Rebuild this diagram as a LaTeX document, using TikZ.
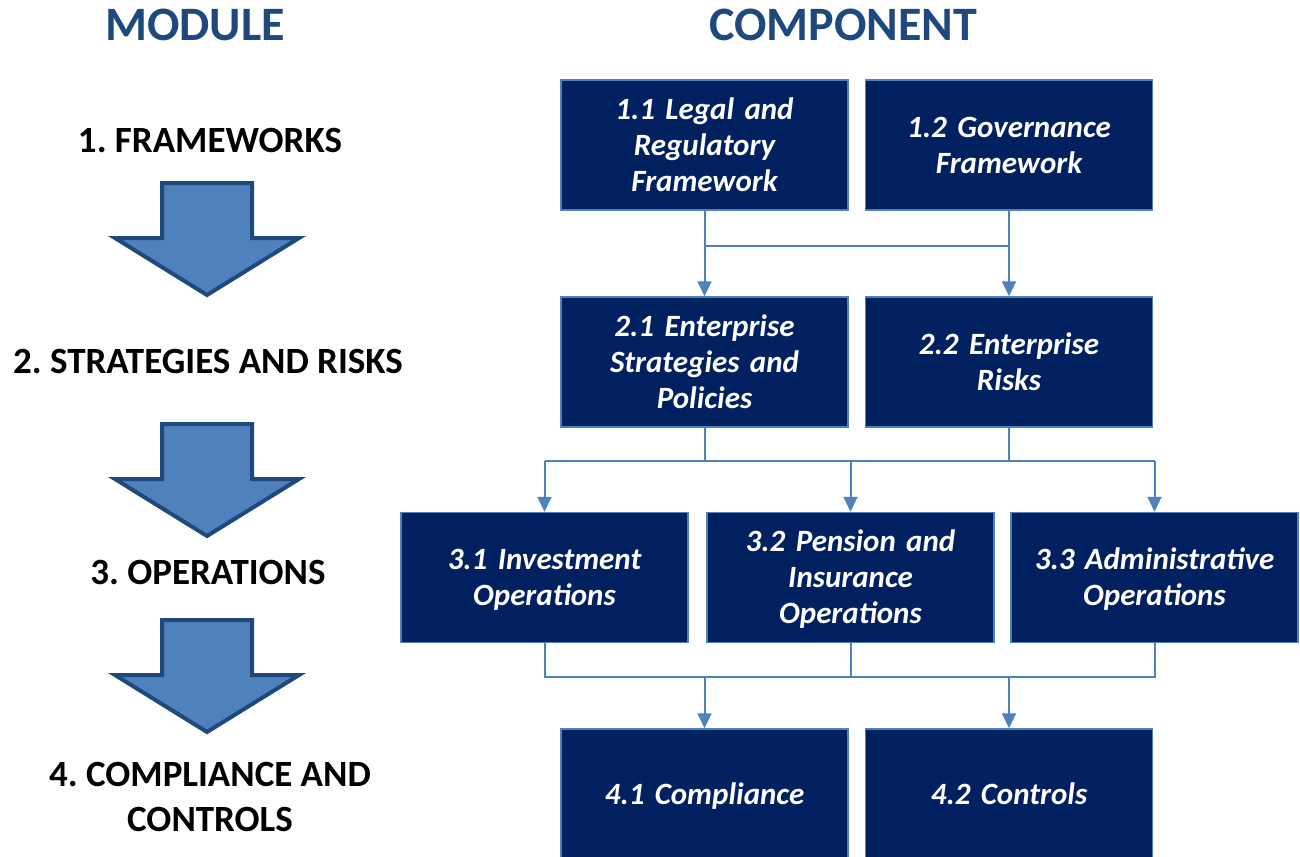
\documentclass[tikz,border=0pt]{standalone}
\usepackage{fontspec}
\setmainfont{Carlito}
\usetikzlibrary{arrows.meta}

\definecolor{navy}{RGB}{0,32,96}
\definecolor{lineblue}{RGB}{79,129,189}
\definecolor{titleblue}{RGB}{31,73,125}

\begin{document}
\frenchspacing
\begin{tikzpicture}[x=1pt,y=1pt,yscale=-1,xscale=1,
    comp/.style={rectangle, fill=navy, draw=lineblue, line width=1.5pt,
        minimum width=287pt, minimum height=130pt, text width=278pt, align=center,
        text=white, font=\fontsize{31}{36}\selectfont\bfseries\itshape,
        execute at begin node={\rule{0pt}{31pt}}, execute at end node=\strut},
    modlabel/.style={align=center, font=\fontsize{37}{45}\selectfont\bfseries},
    heading/.style={text=titleblue, font=\fontsize{48}{54}\selectfont\bfseries},
    link/.style={draw=lineblue, line width=2pt},
    linkarrow/.style={link, -{Triangle[length=15pt,width=14pt]}},
    bigarrow/.style={fill=lineblue, draw=titleblue, line width=4pt, line join=miter}]
    \useasboundingbox (0,0) rectangle (1300,856);
    % headings
    \node[heading] (hmod) at (195,25) {MODULE};
    \node[heading] (hcomp) at (843,25) {COMPONENT};
    % modules
    \node[modlabel] (m1) at (210,140) {1. FRAMEWORKS};
    \node[modlabel] (m2) at (208,361) {2. STRATEGIES AND RISKS};
    \node[modlabel] (m3) at (208,572) {3. OPERATIONS};
    \node[modlabel] (m4) at (210,797) {4. COMPLIANCE AND\\CONTROLS};
    % big arrows
    \foreach \y in {183,424,620} {
        \draw[bigarrow] (162,\y) -- (252,\y) -- (252,\y+55) -- (299,\y+55)
            -- (207,\y+112) -- (115,\y+55) -- (162,\y+55) -- cycle;
    }
    % components
    \node[comp] (b11) at (704.5,145) {1.1 Legal and\\Regulatory\\Framework};
    \node[comp] (b12) at (1009,145) {1.2 Governance\\Framework};
    \node[comp] (b21) at (704.5,362) {2.1 Enterprise\\Strategies and\\Policies};
    \node[comp] (b22) at (1009,362) {2.2 Enterprise\\Risks};
    \node[comp] (b31) at (544.5,577.5) {3.1 Investment\\Operations};
    \node[comp] (b32) at (850.5,577.5) {3.2 Pension and\\Insurance\\Operations};
    \node[comp] (b33) at (1154.5,577.5) {3.3 Administrative\\Operations};
    \node[comp] (b41) at (704.5,794) {4.1 Compliance};
    \node[comp] (b42) at (1009,794) {4.2 Controls};
    % level 1 -> level 2
    \coordinate (j11) at (b11.south |- 0,246);
    \coordinate (j12) at (b12.south |- 0,246);
    \draw[link] (b11.south) -- (j11) -- (j12) -- (b12.south);
    \draw[linkarrow] (j11) -- (b21.north);
    \draw[linkarrow] (j12) -- (b22.north);
    % level 2 -> level 3
    \coordinate (j31) at (b31.north |- 0,461);
    \coordinate (j32) at (b32.north |- 0,461);
    \coordinate (j33) at (b33.north |- 0,461);
    \draw[link] (b21.south) -- (b21.south |- j31);
    \draw[link] (b22.south) -- (b22.south |- j31);
    \draw[link] (j31) -- (j33);
    \draw[linkarrow] (j31) -- (b31.north);
    \draw[linkarrow] (j32) -- (b32.north);
    \draw[linkarrow] (j33) -- (b33.north);
    % level 3 -> level 4
    \coordinate (k31) at (b31.south |- 0,677);
    \coordinate (k33) at (b33.south |- 0,677);
    \draw[link] (b31.south) -- (k31) -- (k33) -- (b33.south);
    \draw[link] (b32.south) -- (b32.south |- k31);
    \draw[linkarrow] (b41.north |- k31) -- (b41.north);
    \draw[linkarrow] (b42.north |- k31) -- (b42.north);
\end{tikzpicture}
\end{document}
